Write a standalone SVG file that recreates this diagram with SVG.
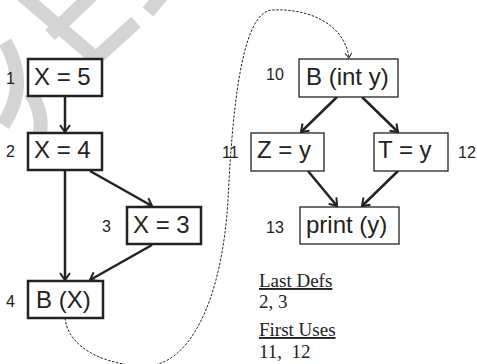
<svg xmlns="http://www.w3.org/2000/svg" width="477" height="364" viewBox="0 0 477 364">
<style>
.wm{fill:none;stroke:#d4d4d4;stroke-width:14}
.box{fill:#fff;stroke:#222}
.thick{stroke-width:2.5}
.thin{stroke-width:1.3}
.t{font-family:"Liberation Sans",Arial,sans-serif;font-size:24px;fill:#222}
.lbl{font-family:"Liberation Sans",Arial,sans-serif;font-size:16px;fill:#222}
.note{font-family:"Liberation Serif","Times New Roman",serif;font-size:19px;fill:#222}
.e{fill:none;stroke:#222;stroke-width:2.5}
.d{fill:none;stroke:#222;stroke-width:1;stroke-dasharray:2.5 1.5}
</style>
<defs>
<marker id="ah" viewBox="-10 -8 12 16" refX="0" refY="0" markerWidth="12" markerHeight="16" markerUnits="userSpaceOnUse" orient="auto" overflow="visible">
<path d="M-7,-5 L0,0 L-7,5" fill="none" stroke="#222" stroke-width="2"/>
</marker>
<marker id="ahs" viewBox="-8 -6 10 12" refX="0" refY="0" markerWidth="10" markerHeight="12" markerUnits="userSpaceOnUse" orient="auto" overflow="visible">
<path d="M-5,-3.5 L0,0 L-5,3.5" fill="none" stroke="#222" stroke-width="1"/>
</marker>
</defs>
<g id="watermark">
<line class="wm" x1="22" y1="-5" x2="100" y2="62"/>
<line class="wm" x1="92" y1="-5" x2="50" y2="35"/>
<line class="wm" x1="136" y1="22" x2="92" y2="62"/>
<line class="wm" x1="162" y1="-5" x2="148" y2="12"/>
<path class="wm" d="M5,42 Q30,85 3,125"/>
<path class="wm" d="M30,92 Q46,115 38,142"/>
</g>
<g id="connectors">
<line class="e" x1="65" y1="97" x2="65" y2="132" marker-end="url(#ah)"/>
<line class="e" x1="65" y1="171" x2="65" y2="280" marker-end="url(#ah)"/>
<line class="e" x1="90" y1="171" x2="152" y2="206" marker-end="url(#ah)"/>
<line class="e" x1="152" y1="245" x2="90" y2="280" marker-end="url(#ah)"/>
<line class="e" x1="337" y1="97" x2="301" y2="132" marker-end="url(#ah)"/>
<line class="e" x1="362" y1="97" x2="398" y2="132" marker-end="url(#ah)"/>
<line class="e" x1="308" y1="171" x2="337" y2="206" marker-end="url(#ah)"/>
<line class="e" x1="398" y1="171" x2="362" y2="206" marker-end="url(#ah)"/>
<path class="d" d="M65,318 C68,350 110,366 145,366 C190,366 222,300 228,200 C232,120 240,12 272,10 C310,8 345,25 349,58" marker-end="url(#ahs)"/>
</g>
<g id="n1">
<rect class="box thick" x="28" y="59" width="74" height="37"/>
<text class="t" x="34" y="85">X = 5</text>
<text class="lbl" x="6" y="84">1</text>
</g>
<g id="n2">
<rect class="box thick" x="28" y="133" width="74" height="37"/>
<text class="t" x="34" y="158">X = 4</text>
<text class="lbl" x="6" y="157">2</text>
</g>
<g id="n3">
<rect class="box thick" x="127" y="207" width="74" height="37"/>
<text class="t" x="133" y="233">X = 3</text>
<text class="lbl" x="102" y="232">3</text>
</g>
<g id="n4">
<rect class="box thick" x="28" y="281" width="75" height="37"/>
<text class="t" x="36" y="308">B (X)</text>
<text class="lbl" x="6" y="307">4</text>
</g>
<g id="n10">
<rect class="box thin" x="299" y="59" width="99" height="38"/>
<text class="t" x="306" y="85">B (int y)</text>
<text class="lbl" x="266" y="80">10</text>
</g>
<g id="n11">
<rect class="box thin" x="251" y="133" width="73" height="38"/>
<text class="t" x="257" y="158">Z = y</text>
<text class="lbl" x="222" y="158">11</text>
</g>
<g id="n12">
<rect class="box thin" x="374" y="133" width="74" height="38"/>
<text class="t" x="378" y="158">T = y</text>
<text class="lbl" x="458" y="158">12</text>
</g>
<g id="n13">
<rect class="box thin" x="300" y="207" width="99" height="37"/>
<text class="t" x="306" y="233">print (y)</text>
<text class="lbl" x="266" y="233">13</text>
</g>
<g id="notes">
<text class="note" x="259" y="287" text-decoration="underline">Last Defs</text>
<text class="note" x="259" y="308">2, 3</text>
<text class="note" x="259" y="336" text-decoration="underline">First Uses</text>
<text class="note" x="259" y="358" xml:space="preserve">11,  12</text>
</g>
</svg>
